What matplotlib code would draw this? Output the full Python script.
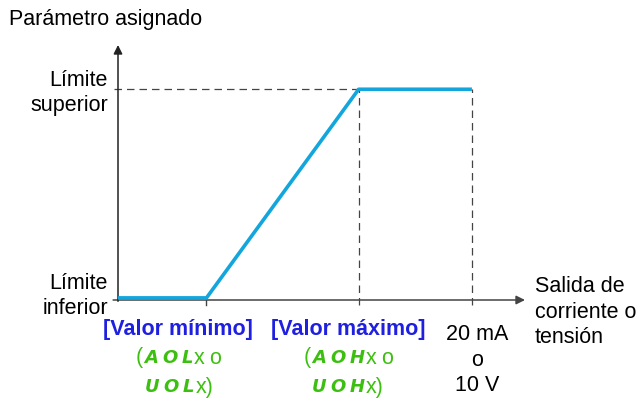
import matplotlib
matplotlib.use("Agg")
import matplotlib.pyplot as plt

# datos de la curva (entrada en % de la escala, salida en % del rango)
x_curva = [0, 25, 68, 100]
y_curva = [1, 1, 100, 100]
x_ticks = [25, 68, 100]
y_sup = 100

W, H = 644, 404
azul = "#12a6dc"
azul_txt = "#1f1fe0"
verde = "#3cbf10"
gris = "#444444"
fuente = "Liberation Sans"

fig = plt.figure(figsize=(W / 100, H / 100), dpi=100)
fig.patch.set_facecolor("white")

def px(x, y):
    return x / W, 1 - y / H

# ejes del grafico
ax = fig.add_axes([118 / W, (H - 300) / H, (525 - 118) / W, (300 - 45) / H])
ax.set_xlim(0, 115)
ax.set_ylim(0, 121)
ax.axis("off")

# flechas de los ejes
ax.annotate("", xy=(1, 0), xytext=(-0.012, 0), xycoords="axes fraction",
            arrowprops=dict(arrowstyle="-|>", color=gris, lw=1.1, mutation_scale=13, shrinkA=0, shrinkB=0))
ax.annotate("", xy=(0, 1), xytext=(0, -0.005), xycoords="axes fraction",
            arrowprops=dict(arrowstyle="-|>", color="#222222", lw=1.1, mutation_scale=13, shrinkA=0, shrinkB=0))

# lineas de referencia discontinuas
ax.plot([-1.2, x_curva[2]], [y_sup, y_sup], color=gris, lw=0.9, ls=(0, (6, 4)), clip_on=False)
for xv in x_ticks[1:]:
    ax.plot([xv, xv], [-2.6, y_sup], color=gris, lw=0.9, ls=(0, (6, 4)), clip_on=False)
ax.plot([x_ticks[0], x_ticks[0]], [-2.6, 0], color=gris, lw=1.0, clip_on=False)

# curva
ax.plot(x_curva, y_curva, color=azul, lw=2.6, solid_capstyle="butt", zorder=5, clip_on=False)

# textos
fs = 15.5
fig.text(*px(9, 19), "Parámetro asignado", fontsize=fs, family=fuente, va="center", ha="left")
fig.text(*px(108, 93), "Límite\nsuperior", fontsize=fs, family=fuente, va="center", ha="right",
         multialignment="right", linespacing=1.2)
fig.text(*px(108, 296), "Límite\ninferior", fontsize=fs, family=fuente, va="center", ha="right",
         multialignment="right", linespacing=1.2)
fig.text(*px(535, 312), "Salida de\ncorriente o\ntensión", fontsize=fs, family=fuente, va="center",
         ha="left", linespacing=1.3)
fig.text(*px(477, 360), "20 mA\no\n10 V", fontsize=fs, family=fuente, va="center", ha="center",
         linespacing=1.3)
fig.text(*px(178, 330), "[Valor mínimo]", fontsize=fs, family=fuente, weight="bold", color=azul_txt,
         va="center", ha="center")
fig.text(*px(348, 330), "[Valor máximo]", fontsize=fs, family=fuente, weight="bold", color=azul_txt,
         va="center", ha="center")

renderer = fig.canvas.get_renderer()

def linea_mixta(cx, cy, piezas):
    # piezas: (texto, es_display, espacio_despues)
    arts = []
    for txt, seg, gap in piezas:
        if seg:
            t = fig.text(0, 0, txt, fontsize=13, family="DejaVu Sans", weight="bold", style="italic",
                         color=verde, va="center", ha="left")
        else:
            t = fig.text(0, 0, txt, fontsize=fs, family=fuente, color=verde, va="center", ha="left")
        w = t.get_window_extent(renderer).width
        arts.append((t, w, gap))
    total = sum(w + g for _, w, g in arts) - arts[-1][2]
    x = cx - total / 2
    for t, w, g in arts:
        t.set_position(px(x, cy))
        x += w + g

linea_mixta(178, 358, [("(", False, 2), ("A", True, 4), ("O", True, 4), ("L", True, 1), ("x", False, 4), ("o", False, 0)])
linea_mixta(179, 387, [("U", True, 4), ("O", True, 4), ("L", True, 1), ("x)", False, 0)])
linea_mixta(348, 358, [("(", False, 2), ("A", True, 4), ("O", True, 4), ("H", True, 1), ("x", False, 4), ("o", False, 0)])
linea_mixta(348, 387, [("U", True, 4), ("O", True, 4), ("H", True, 1), ("x)", False, 0)])

fig.savefig("out.png", dpi=100)
